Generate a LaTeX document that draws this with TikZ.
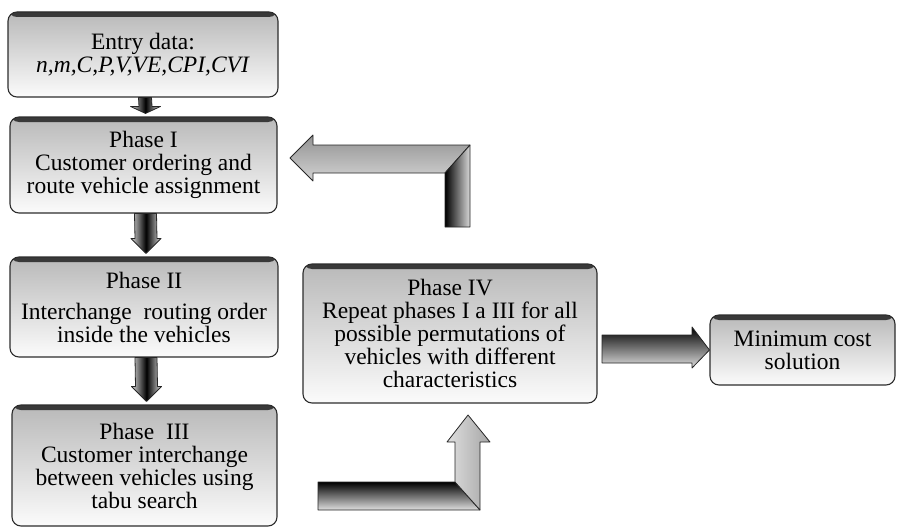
\documentclass[tikz,border=0pt]{standalone}
\usepackage{fontspec}
\setmainfont{Liberation Serif}
\usetikzlibrary{calc}

\tikzset{
  phasebox/.style={draw=gray!35!black, line width=1.1pt, rounded corners=9pt,
    top color=gray!55, bottom color=gray!3, align=center, inner sep=2pt,
    font=\fontsize{23.5}{23}\selectfont,
    path picture={\fill[gray!45!black] (path picture bounding box.north west)
      rectangle ($(path picture bounding box.north east)+(0pt,-5pt)$);}},
  arrowline/.style={draw=gray!30!black, line width=0.8pt, line join=round},
  downarrow/.style={arrowline, left color=gray!30, right color=gray!30, middle color=black},
}

\begin{document}
\begin{tikzpicture}[x=1pt,y=-1pt]
  \useasboundingbox (0,0) rectangle (897,527);
  % phase boxes
  \node[phasebox, minimum width=270pt, minimum height=85pt] (entry) at (143,54.5)
    {Entry data:\\\textit{n,m,C,P,V,VE,CPI,CVI}};
  \node[phasebox, minimum width=267pt, minimum height=96pt] (ph1) at (143.5,165)
    {Phase I\\Customer ordering and\\route vehicle assignment};
  \node[phasebox, minimum width=268pt, minimum height=100pt] (ph2) at (144,307)
    {Phase II\\[8pt]Interchange\ \ routing order\\inside the vehicles};
  \node[phasebox, minimum width=265pt, minimum height=121pt] (ph3) at (144.5,465.5)
    {Phase\ \ III\\Customer interchange\\between vehicles using\\tabu search};
  \node[phasebox, minimum width=294pt, minimum height=139pt] (ph4) at (450,333.5)
    {Phase IV\\Repeat phases I a III for all\\possible permutations of\\vehicles with different\\characteristics};
  \node[phasebox, minimum width=185pt, minimum height=70pt] (best) at (802.5,350)
    {Minimum cost\\solution};
  % down arrows
  \foreach \a/\b/\w/\h in {entry/ph1/6.5/10, ph1/ph2/11/18, ph2/ph3/11/18}
    \path[downarrow] ($(\a.south)+(-\w+2,0)$) -- ($(\b.north)+(-\w+2,-\h)$)
      -- ($(\b.north)+(-13,-\h)$) -- ($(\b.north)+(2,-3)$) -- ($(\b.north)+(17,-\h)$)
      -- ($(\b.north)+(\w+2,-\h)$) -- ($(\a.south)+(\w+2,0)$) -- cycle;
  % back arrow from phase IV to phase I
  \coordinate (T1) at (290,158);
  \coordinate (T2) at (313,135);
  \coordinate (T3) at (313,145);
  \coordinate (T4) at (470,145);
  \coordinate (T5) at (470,227);
  \coordinate (T6) at (445,227);
  \coordinate (T7) at (445,173);
  \coordinate (T8) at (313,173);
  \coordinate (T9) at (313,181);
  \path[arrowline, top color=gray!85, bottom color=gray!35]
    (T1) -- (T2) -- (T3) -- (T4) -- (T7) -- (T8) -- (T9) -- cycle;
  \path[arrowline, left color=black, right color=gray!30]
    (T4) -- (T5) -- (T6) -- (T7) -- cycle;
  % arrow from phase III to phase IV
  \coordinate (B1) at (318,482);
  \coordinate (B2) at (455,482);
  \coordinate (B3) at (480,510);
  \coordinate (B4) at (318,510);
  \coordinate (B5) at (455,442);
  \coordinate (B6) at (447,442);
  \coordinate (B7) at (468,415);
  \coordinate (B8) at (490,442);
  \coordinate (B9) at (480,442);
  \path[arrowline, top color=black, bottom color=gray!25]
    (B1) -- (B2) -- (B3) -- (B4) -- cycle;
  \path[arrowline, left color=gray!25, right color=gray!70]
    (B2) -- (B5) -- (B6) -- (B7) -- (B8) -- (B9) -- (B3) -- cycle;
  % arrow to the solution
  \path[arrowline, top color=black, bottom color=gray!25]
    (602,335) -- (692,335) -- (692,327) -- (best.west) -- (692,368) -- (692,363) -- (602,363) -- cycle;
\end{tikzpicture}
\end{document}
